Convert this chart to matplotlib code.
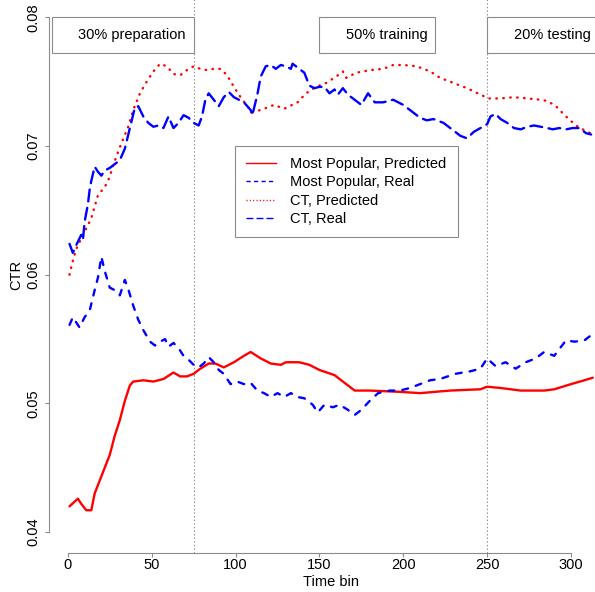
import matplotlib
matplotlib.use('Agg')
import matplotlib.pyplot as plt
from matplotlib.patches import Rectangle
from matplotlib.lines import Line2D

plt.rcParams['font.family'] = ['Liberation Sans', 'DejaVu Sans']
plt.rcParams['lines.scale_dashes'] = False

# ---------------- data ----------------
mp_pred_x = [1, 6, 8, 11, 14, 16, 19, 25, 28, 31, 34, 37, 39, 45, 51, 57, 63, 67, 71, 75,
             79, 84, 88, 93, 99, 105, 109, 115, 121, 127, 130, 138, 144, 150, 159, 165, 171, 180, 198, 210,
             228, 246, 250, 258, 270, 284, 290, 300, 308, 313]
mp_pred_y = [0.0420, 0.0426, 0.0422, 0.0417, 0.0417, 0.0430, 0.0440, 0.0460, 0.0475, 0.0487,
             0.0502, 0.0514, 0.0517, 0.0518, 0.0517, 0.0519, 0.0524, 0.0521, 0.0521, 0.0523,
             0.0527, 0.0531, 0.0531, 0.0528, 0.0532, 0.0537, 0.0540, 0.0535, 0.0531, 0.0530,
             0.0532, 0.0532, 0.0530, 0.0526, 0.0522, 0.0516, 0.0510, 0.0510, 0.0509, 0.0508,
             0.0510, 0.0511, 0.0513, 0.0512, 0.0510, 0.0510, 0.0511, 0.0515, 0.0518, 0.0520]

mp_real_x = [1, 3, 7, 10, 13, 16, 18, 20, 22, 25, 28, 31, 34, 36, 39, 42, 45, 49, 52, 55,
             58, 60, 63, 66, 69, 72, 75, 78, 81, 84, 87, 90, 93, 97, 101, 105, 109, 113, 117, 121,
             125, 129, 133, 137, 141, 146, 149, 153, 158, 162, 167, 171, 175, 180, 185, 192, 198, 204, 210, 216,
             222, 231, 240, 246, 250, 255, 261, 267, 273, 279, 284, 290, 297, 302, 308, 313]
mp_real_y = [0.0561, 0.0567, 0.0559, 0.0567, 0.0572, 0.0588, 0.0598, 0.0614, 0.0603, 0.0590,
             0.0588, 0.0584, 0.0596, 0.0589, 0.0576, 0.0565, 0.0557, 0.0548, 0.0545, 0.0548,
             0.0550, 0.0544, 0.0547, 0.0543, 0.0537, 0.0534, 0.0530, 0.0528, 0.0531, 0.0536,
             0.0532, 0.0526, 0.0523, 0.0515, 0.0517, 0.0515, 0.0516, 0.0510, 0.0508, 0.0505,
             0.0508, 0.0505, 0.0508, 0.0505, 0.0504, 0.0499, 0.0493, 0.0499, 0.0497, 0.0499,
             0.0495, 0.0491, 0.0495, 0.0502, 0.0508, 0.0510, 0.0510, 0.0512, 0.0515, 0.0518,
             0.0519, 0.0523, 0.0525, 0.0527, 0.0535, 0.0529, 0.0532, 0.0527, 0.0532, 0.0535,
             0.0540, 0.0537, 0.0549, 0.0548, 0.0549, 0.0554]

ct_pred_x = [1, 3, 5, 8, 11, 14, 16, 18, 22, 25, 27, 31, 36, 39, 43, 47, 51, 55, 59, 63,
             67, 71, 75, 79, 83, 87, 91, 95, 99, 103, 107, 110, 117, 123, 129, 137, 142, 148, 154, 160,
             164, 166, 172, 180, 188, 194, 200, 208, 216, 222, 230, 238, 246, 251, 258, 266, 274, 282, 286, 291,
             297, 303, 307, 313]
ct_pred_y = [0.0600, 0.0611, 0.0620, 0.0628, 0.0636, 0.0644, 0.0653, 0.0662, 0.0668, 0.0676,
             0.0685, 0.0699, 0.0715, 0.0728, 0.0741, 0.0750, 0.0758, 0.0764, 0.0762, 0.0756,
             0.0755, 0.0759, 0.0762, 0.0760, 0.0759, 0.0760, 0.0760, 0.0755, 0.0746, 0.0738,
             0.0731, 0.0726, 0.0729, 0.0732, 0.0729, 0.0734, 0.0741, 0.0746, 0.0749, 0.0754,
             0.0758, 0.0753, 0.0757, 0.0759, 0.0760, 0.0763, 0.0763, 0.0762, 0.0758, 0.0753,
             0.0749, 0.0745, 0.0740, 0.0737, 0.0737, 0.0738, 0.0737, 0.0736, 0.0735, 0.0731,
             0.0723, 0.0716, 0.0713, 0.0709]

ct_real_x = [1, 3, 5, 8, 9, 10, 12, 13, 14, 16, 18, 20, 22, 25, 29, 31, 34, 37, 40, 42,
             45, 48, 51, 54, 57, 60, 63, 66, 69, 72, 75, 78, 80, 82, 84, 87, 90, 93, 96, 99,
             102, 105, 107, 109, 110, 113, 115, 118, 121, 124, 127, 130, 133, 134, 138, 141, 144, 147, 150, 153,
             156, 159, 161, 164, 167, 171, 175, 179, 183, 188, 194, 200, 205, 210, 214, 218, 224, 230, 234, 238,
             242, 246, 250, 252, 255, 258, 262, 266, 270, 274, 278, 282, 286, 289, 293, 297, 301, 305, 309, 312]
ct_real_y = [0.0624, 0.0617, 0.0623, 0.0631, 0.0627, 0.0641, 0.0655, 0.0666, 0.0673, 0.0684,
             0.0680, 0.0677, 0.0681, 0.0683, 0.0687, 0.0689, 0.0698, 0.0714, 0.0730, 0.0731,
             0.0723, 0.0718, 0.0715, 0.0716, 0.0714, 0.0723, 0.0714, 0.0718, 0.0724, 0.0722,
             0.0718, 0.0716, 0.0723, 0.0736, 0.0741, 0.0736, 0.0731, 0.0738, 0.0742, 0.0738,
             0.0736, 0.0734, 0.0731, 0.0728, 0.0724, 0.0740, 0.0754, 0.0762, 0.0763, 0.0760,
             0.0763, 0.0762, 0.0760, 0.0764, 0.0760, 0.0757, 0.0747, 0.0745, 0.0746, 0.0746,
             0.0741, 0.0744, 0.0740, 0.0745, 0.0740, 0.0736, 0.0732, 0.0741, 0.0734, 0.0734,
             0.0736, 0.0732, 0.0727, 0.0722, 0.0720, 0.0721, 0.0718, 0.0712, 0.0708, 0.0706,
             0.0711, 0.0714, 0.0717, 0.0723, 0.0725, 0.0721, 0.0718, 0.0714, 0.0713, 0.0715,
             0.0716, 0.0715, 0.0714, 0.0713, 0.0714, 0.0713, 0.0714, 0.0714, 0.0710, 0.0709]

series_labels = ['Most Popular, Predicted', 'Most Popular, Real', 'CT, Predicted', 'CT, Real']
phase_labels = ['30% preparation', '50% training', '20% testing']
phase_bounds = [75, 250]
x_ticks = [0, 50, 100, 150, 200, 250, 300]
y_ticks = [0.04, 0.05, 0.06, 0.07, 0.08]
y_tick_labels = ['0.04', '0.05', '0.06', '0.07', '0.08']

for a, b in [(mp_pred_x, mp_pred_y), (mp_real_x, mp_real_y), (ct_pred_x, ct_pred_y), (ct_real_x, ct_real_y)]:
    assert len(a) == len(b), (len(a), len(b))

# ---------------- figure ----------------
W, H = 595, 592
fig = plt.figure(figsize=(W / 100, H / 100), dpi=100)
ax = fig.add_axes([48.5 / W, 1 - 552.7 / H, (613.8 - 48.5) / W, (552.7 + 3.2) / H])
ax.set_xlim(-11.52, 325.52)
ax.set_ylim(0.0384, 0.0816)

LW = 1.7
RED, BLUE = '#ff0000', '#0000ff'
ax.plot(mp_pred_x, mp_pred_y, color=RED, lw=LW, solid_capstyle='round', solid_joinstyle='round')
ax.plot(mp_real_x, mp_real_y, color=BLUE, lw=LW, linestyle=(0, (4.3, 5.8)),
        dash_capstyle='round', dash_joinstyle='round')
ax.plot(ct_pred_x, ct_pred_y, color=RED, lw=LW, linestyle=(0, (0.4, 4.6)),
        dash_capstyle='round', dash_joinstyle='round')
ax.plot(ct_real_x, ct_real_y, color=BLUE, lw=LW, linestyle=(0, (8.6, 4.7)),
        dash_capstyle='round', dash_joinstyle='round')

GRAY = '#8c8c8c'
for b in phase_bounds:
    ax.axvline(b, color=GRAY, lw=0.8, linestyle=(0, (1.0, 1.6)), zorder=1)

# phase label boxes
box_left = [-9.4, 150, 250]
box_right = [75, 219, 316.5]
box_bottom, box_top = 0.07726, 0.0800
for lab, l, r in zip(phase_labels, box_left, box_right):
    ax.add_patch(Rectangle((l, box_bottom), r - l, box_top - box_bottom, facecolor='white',
                           edgecolor=GRAY, lw=0.8, zorder=3, clip_on=False))
    ax.text(r - 4.6, (box_bottom + box_top) / 2, lab, ha='right', va='center',
            fontsize=10.5, zorder=4)

# axes styling (R-like detached axes)
for s in ['top', 'right']:
    ax.spines[s].set_visible(False)
ax.spines['left'].set_bounds(0.04, 0.08)
ax.spines['bottom'].set_bounds(0, 300)
for s in ['left', 'bottom']:
    ax.spines[s].set_color(GRAY)
    ax.spines[s].set_linewidth(0.8)
ax.set_xticks(x_ticks)
ax.set_xticklabels([str(t) for t in x_ticks])
ax.set_yticks(y_ticks)
ax.set_yticklabels(y_tick_labels)
ax.tick_params(axis='both', colors=GRAY, labelcolor='black', labelsize=10.5, length=2.6, width=0.8)
ax.tick_params(axis='x', pad=1.0)
ax.tick_params(axis='y', pad=3.0, labelrotation=90)
for t in ax.get_yticklabels():
    t.set_va('center')

ax.set_xlabel('Time bin', fontsize=10.5)
ax.set_ylabel('CTR', fontsize=10.5)
ax.xaxis.set_label_coords(0.5, (552.7 - 574.5) / 555.9)
ax.yaxis.set_label_coords((23.5 - 48.5) / 565.3, 0.5)

# legend
handles = [
    Line2D([], [], color=RED, lw=1.0),
    Line2D([], [], color=BLUE, lw=1.0, linestyle=(0, (3.0, 2.4))),
    Line2D([], [], color=RED, lw=1.0, linestyle=(0, (0.8, 1.6))),
    Line2D([], [], color=BLUE, lw=1.0, linestyle=(0, (5.0, 2.2))),
]
leg = ax.legend(handles, series_labels, loc='upper left',
                bbox_to_anchor=(235 / W, 1 - 145.7 / H), bbox_transform=fig.transFigure,
                borderaxespad=0, frameon=True, fancybox=False, edgecolor=GRAY, framealpha=1,
                fontsize=10.5, handlelength=2.0, handletextpad=0.99, borderpad=0.78,
                labelspacing=0.295)
leg.get_frame().set_linewidth(0.8)

fig.savefig('out.png', dpi=100)
